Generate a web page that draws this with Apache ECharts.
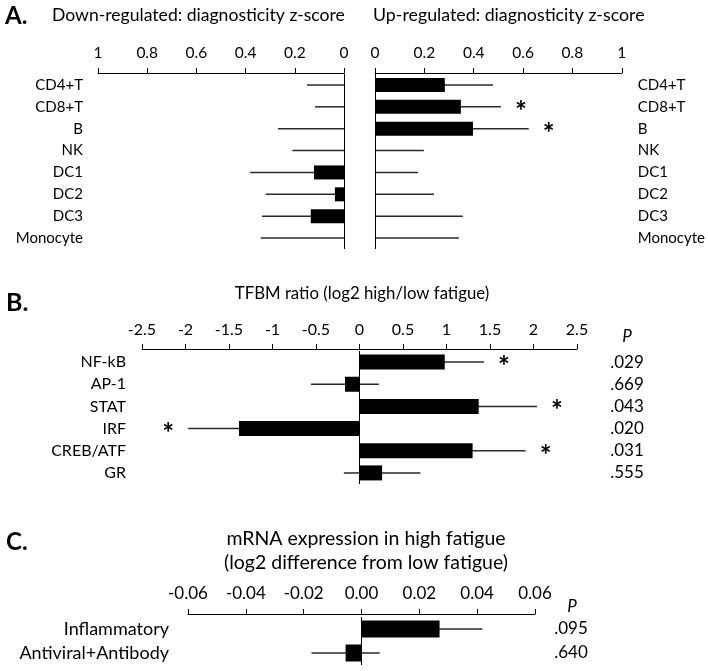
<!DOCTYPE html>
<html><head><meta charset="utf-8">
<script src="https://cdn.jsdelivr.net/npm/echarts@6/dist/echarts.min.js"></script>
<style>html,body{margin:0;padding:0;background:#fff}#c{width:708px;height:671px}</style>
</head><body><div id="c"></div>
<script>
// ---- Panel A data ----
const cellTypes = ['CD4+T','CD8+T','B','NK','DC1','DC2','DC3','Monocyte'];
const downMean = [0, 0, 0, 0, 0.122, 0.037, 0.135, 0];
const downErrEnd = [0.15, 0.118, 0.268, 0.21, 0.382, 0.318, 0.333, 0.338];
const upMean = [0.283, 0.348, 0.397, 0, 0, 0, 0, 0];
const upErrEnd = [0.478, 0.51, 0.623, 0.198, 0.174, 0.239, 0.356, 0.34];
const upSig = [0, 1, 1, 0, 0, 0, 0, 0];
// ---- Panel B data ----
const tfbms = ['NF-kB','AP-1','STAT','IRF','CREB/ATF','GR'];
const tfbmMean = [0.98, -0.167, 1.37, -1.385, 1.30, 0.26];
const tfbmSE = [0.45, 0.39, 0.67, 0.585, 0.61, 0.44];
const tfbmP = ['.029','.669','.043','.020','.031','.555'];
const tfbmSig = [1, 0, 1, 1, 1, 0];
// ---- Panel C data ----
const geneSets = ['Inflammatory','Antiviral+Antibody'];
const mrnaMean = [0.027, -0.0055];
const mrnaSE = [0.0148, 0.0118];
const mrnaP = ['.095','.640'];

const FONT = 'Lato';

function errData(lo, hi){ return lo.map((l,i)=>[l, hi[i], i]); }
function sigData(mean, se, sig){
  const out=[]; sig.forEach((s,i)=>{ if(s){ const end = mean[i]>=0 ? mean[i]+se[i] : mean[i]-se[i]; out.push([end, i, mean[i]>=0?1:-1]); } });
  return out;
}
function renderErr(params, api){
  const a = api.coord([api.value(0), api.value(2)]);
  const b = api.coord([api.value(1), api.value(2)]);
  return {type:'line', shape:{x1:a[0],y1:a[1],x2:b[0],y2:b[1]}, style:{stroke:'#2a2a2a', lineWidth:1.5}};
}
function renderStar(params, api){
  const p = api.coord([api.value(0), api.value(1)]);
  const dir = api.value(2);
  return {type:'text', x: p[0] + dir*20, y: p[1] + 5, style:{text:'*', font:'bold 28px '+FONT, fill:'#000', align:'center', verticalAlign:'middle'}};
}
function xAx(grid, min, max, interval, fsz, margin, offset, extra){
  return Object.assign({type:'value', gridIndex:grid, position:'top', min, max, interval, offset,
    splitLine:{show:false},
    axisLine:{show:true, onZero:false, lineStyle:{color:'#000', width:1}},
    axisTick:{show:true, length:5, lineStyle:{color:'#000'}},
    axisLabel:{color:'#000', fontFamily:FONT, fontSize:fsz, margin}}, extra||{});
}
function yCat(grid, data, pos, align, margin, fsz){
  return {type:'category', gridIndex:grid, data, inverse:true, position:pos,
    axisLine:{show:false}, axisTick:{show:false},
    axisLabel:{color:'#000', fontFamily:FONT, fontSize:fsz, margin, align}};
}
const zeroLine = {silent:true, symbol:'none', label:{show:false}, lineStyle:{color:'#000', width:1, type:'solid'}, data:[{xAxis:0}]};
function bars(ax, data, w){
  return {type:'bar', xAxisIndex:ax, yAxisIndex:ax, data, barWidth:w, itemStyle:{color:'#000'}, z:3, markLine:zeroLine};
}
function errs(ax, data){
  return {type:'custom', xAxisIndex:ax, yAxisIndex:ax, data, renderItem:renderErr, encode:{x:[0,1], y:2}, z:2};
}
function stars(ax, data){
  return {type:'custom', xAxisIndex:ax, yAxisIndex:ax, data, renderItem:renderStar, encode:{x:0, y:1}, z:4};
}

const chart = echarts.init(document.getElementById('c'), null, {renderer:'canvas'});
const txt = (t, x, y, size, opt) => ({type:'text', x, y, style:Object.assign({text:t, font: size+'px '+FONT, fill:'#000', align:'left', verticalAlign:'middle'}, opt||{})});

chart.setOption({
  animation:false,
  backgroundColor:'#fff',
  grid:[
    {left:98, top:74, width:246, height:175},
    {left:375, top:74, width:247, height:175},
    {left:142, top:351, width:435, height:133},
    {left:188, top:617, width:347, height:48}
  ],
  xAxis:[
    xAx(0, 0, 1, 0.2, 15.5, 12, 1, {inverse:true}),
    xAx(1, 0, 1, 0.2, 15.5, 12, 1),
    xAx(2, -2.5, 2.5, 0.5, 16, 11, 2),
    xAx(3, -0.06, 0.06, 0.02, 17, 12, 3, {axisLabel:{color:'#000', fontFamily:FONT, fontSize:17, margin:12, formatter:v=>v.toFixed(2)}})
  ],
  yAxis:[
    yCat(0, cellTypes, 'left', 'right', 15, 15),
    yCat(1, cellTypes, 'right', 'left', 16, 15),
    yCat(2, tfbms, 'left', 'right', 16, 16),
    yCat(3, geneSets, 'left', 'right', 19, 18),
    yCat(2, tfbmP, 'right', 'center', 50, 17),
    yCat(3, mrnaP, 'right', 'center', 36, 17)
  ],
  series:[
    bars(0, downMean, 14),
    errs(0, errData(downMean.map(()=>0), downErrEnd)),
    bars(1, upMean, 14),
    errs(1, errData(upMean.map(()=>0), upErrEnd)),
    stars(1, sigData(upMean, upErrEnd.map((e,i)=>e-upMean[i]), upSig)),
    bars(2, tfbmMean, 15),
    errs(2, errData(tfbmMean.map((m,i)=>m-tfbmSE[i]), tfbmMean.map((m,i)=>m+tfbmSE[i]))),
    stars(2, sigData(tfbmMean, tfbmSE, tfbmSig)),
    bars(3, mrnaMean, 17),
    errs(3, errData(mrnaMean.map((m,i)=>m-mrnaSE[i]), mrnaMean.map((m,i)=>m+mrnaSE[i])))
  ],
  graphic:[
    txt('A.', 5, 16, 24, {font:'bold 24px '+FONT}),
    txt('Down-regulated: diagnosticity z-score', 52, 15, 17.6),
    txt('Up-regulated: diagnosticity z-score', 373, 15, 17.8),
    txt('B.', 6, 303, 25, {font:'bold 25px '+FONT}),
    txt('TFBM ratio (log2 high/low fatigue)', 362, 294, 16.8, {align:'center'}),
    txt('P', 627, 337, 17, {align:'center', font:'italic 17px '+FONT}),
    txt('C.', 6, 542, 24, {font:'bold 24px '+FONT}),
    txt('mRNA expression in high fatigue', 366, 539, 19.5, {align:'center'}),
    txt('(log2 difference from low fatigue)', 366, 563, 19.5, {align:'center'}),
    txt('P', 572, 607, 17, {align:'center', font:'italic 17px '+FONT})
  ]
});
</script></body></html>
